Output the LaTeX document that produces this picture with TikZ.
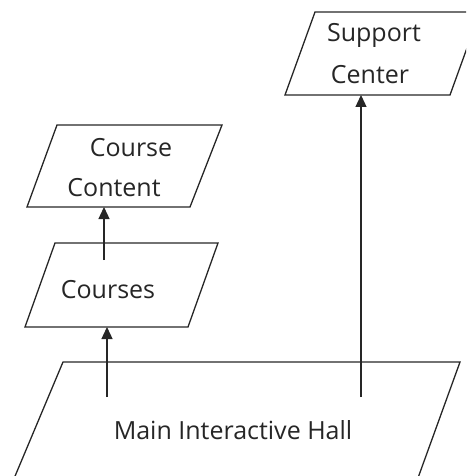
\documentclass[tikz,border=0pt]{standalone}
\usepackage{fontspec}
\setmainfont{Open Sans}
\usetikzlibrary{arrows.meta}
\tikzset{
  box/.style={draw=black!85, line width=1.3pt, line join=miter},
  lbl/.style={inner sep=0pt, font=\fontsize{25}{28}\selectfont, text=black!85},
  link/.style={draw=black!85, line width=1.3pt, -{Triangle[length=12pt,width=11pt]}}
}
\begin{document}
\begin{tikzpicture}[x=1pt,y=-1pt]
\useasboundingbox (0,0) rectangle (466,476);
\clip (0,0) rectangle (466,476);

% parallelogram outlines
\draw[box] (315,12) -- (480,12) -- (450,95) -- (285,95) -- cycle;
\draw[box] (57,125) -- (222,125) -- (190,207) -- (27,207) -- cycle;
\draw[box] (55,243) -- (218,243) -- (188,327) -- (25,327) -- cycle;
\draw[box] (63,362) -- (460,362) -- (410,500) -- (5,500) -- cycle;

% labels
\node[lbl] (sup1) at (374,35) {Support};
\node[lbl] (sup2) at (370,75) {Center};
\node[lbl] (cc1) at (131,148) {Course};
\node[lbl] (cc2) at (114,188) {Content};
\node[lbl] (crs) at (108,290) {Courses};
\node[lbl] (hall) at (233,430) {Main Interactive Hall};

% connector end points
\coordinate (supB) at (361,95);
\coordinate (hallS2) at (361,397);
\coordinate (ccB) at (104,207);
\coordinate (crsS) at (104,260);
\coordinate (crsB) at (107,327);
\coordinate (hallS1) at (107,397);

\draw[link] (hallS2) -- (supB);
\draw[link] (hallS1) -- (crsB);
\draw[link] (crsS) -- (ccB);
\end{tikzpicture}
\end{document}
